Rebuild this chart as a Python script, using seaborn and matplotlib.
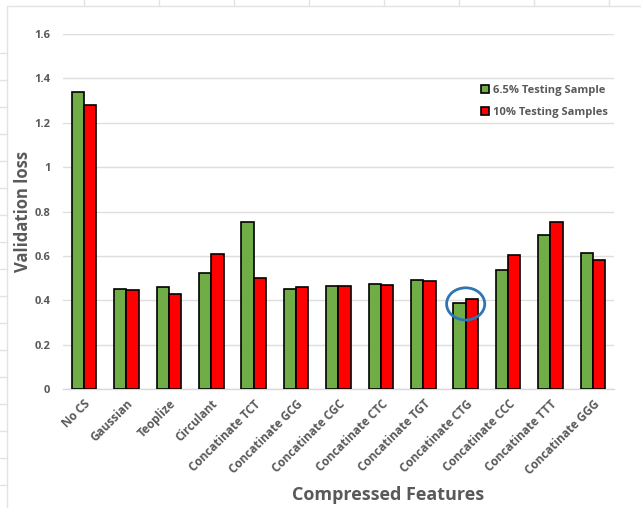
import matplotlib
matplotlib.use("Agg")
import matplotlib.pyplot as plt
import seaborn as sns
import pandas as pd
from matplotlib.patches import Ellipse
from matplotlib.lines import Line2D
from matplotlib.ticker import FuncFormatter, FixedLocator

categories = ['No CS', 'Gaussian', 'Teoplize', 'Circulant', 'Concatinate TCT',
              'Concatinate GCG', 'Concatinate CGC', 'Concatinate CTC', 'Concatinate TGT',
              'Concatinate CTG', 'Concatinate CCC', 'Concatinate TTT', 'Concatinate GGG']
loss_65 = [1.339, 0.450, 0.461, 0.524, 0.754, 0.449, 0.464, 0.474, 0.490, 0.387, 0.535, 0.694, 0.614]
loss_10 = [1.278, 0.446, 0.427, 0.610, 0.500, 0.459, 0.464, 0.470, 0.485, 0.407, 0.604, 0.752, 0.584]
series = ['6.5% Testing Sample', '10% Testing Samples']
highlight = 'Concatinate CTG'

df = pd.DataFrame({
    'feature': categories * 2,
    'loss': loss_65 + loss_10,
    'sample': [series[0]] * len(categories) + [series[1]] * len(categories),
})

sns.set_style('white')
plt.rcParams['font.family'] = ['Open Sans', 'DejaVu Sans']
grey = '#595959'

fig = plt.figure(figsize=(6.41, 5.08), dpi=100)
ax = fig.add_axes([0.098, 0.234, 0.86, 0.699])

sns.barplot(data=df, x='feature', y='loss', hue='sample', order=categories,
            hue_order=series, palette=['#70AD47', '#FF0000'], saturation=1, width=0.58,
            edgecolor='black', linewidth=1.2, ax=ax, zorder=3)

ax.set_ylim(0, 1.6)
ax.set_xlim(-0.5, len(categories) - 0.5)
ax.set_yticks([0, 0.2, 0.4, 0.6, 0.8, 1.0, 1.2, 1.4, 1.6])
ax.yaxis.set_major_formatter(FuncFormatter(lambda v, p: f'{v:g}'))
ax.grid(axis='y', color='#DEDEDE', linewidth=1, zorder=0)
ax.set_axisbelow(True)

for s in ['top', 'right', 'left']:
    ax.spines[s].set_visible(False)
ax.spines['bottom'].set_color('#D9D9D9')
ax.spines['bottom'].set_linewidth(1)

ax.tick_params(axis='y', length=0, labelsize=8, labelcolor=grey, pad=9)
ax.tick_params(axis='x', which='major', length=0, labelsize=8.5, labelcolor=grey, pad=6)
ax.xaxis.set_minor_locator(FixedLocator([i + 0.5 for i in range(-1, len(categories))]))
ax.tick_params(axis='x', which='minor', length=5, color='#D9D9D9', width=1)
for lbl in ax.get_yticklabels():
    lbl.set_fontweight('bold')
ax.set_xticks(range(len(categories)))
ax.set_xticklabels(categories, rotation=45, ha='right', rotation_mode='anchor',
                   fontweight='bold')

ax.set_ylabel('Validation loss', fontsize=12, fontweight='bold', color=grey, labelpad=2)
ax.set_xlabel('Compressed Features', fontsize=13, fontweight='bold', color=grey)
ax.xaxis.set_label_coords((388 - 63) / 551, -0.299)
ax.xaxis.label.set_va('center')

leg = ax.legend(loc='upper left', bbox_to_anchor=(0.74, 0.885), frameon=False,
                prop={'weight': 'bold', 'size': 8}, handlelength=0.7, handleheight=0.7,
                handletextpad=0.4, labelspacing=1.0)
for t in leg.get_texts():
    t.set_color(grey)

# blue circle around the highlighted pair
hi = categories.index(highlight)
cy = (loss_65[hi] + loss_10[hi]) / 2 - 0.013
ax.add_patch(Ellipse((hi, cy), 0.9, 0.145, fill=False, edgecolor='#2E75B6',
                     linewidth=2, zorder=5))

# faint outer frame with ruler ticks (screenshot border)
fc = '#E3E3E3'
fig.add_artist(Line2D([7 / 641, 1], [1 - 6 / 508] * 2, color=fc, lw=1))
fig.add_artist(Line2D([7 / 641] * 2, [0, 1 - 6 / 508], color=fc, lw=1))
for x in range(84, 641, 75):
    fig.add_artist(Line2D([x / 641] * 2, [1 - 6 / 508, 1], color=fc, lw=1))
for y in range(53, 508, 27):
    fig.add_artist(Line2D([0, 7 / 641], [1 - y / 508] * 2, color=fc, lw=1))

fig.savefig('out.png', dpi=100)
